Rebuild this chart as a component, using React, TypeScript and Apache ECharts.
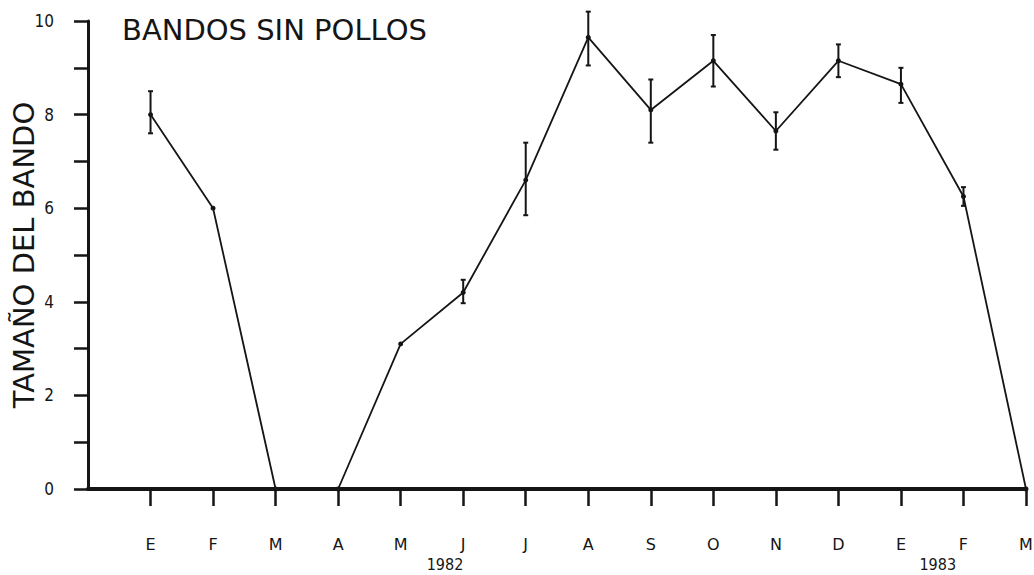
import React, { useEffect, useRef } from "react";
import * as echarts from "echarts";

const months = ["E", "F", "M", "A", "M", "J", "J", "A", "S", "O", "N", "D", "E", "F", "M"];
const sizes = [8.0, 6.0, 0, 0, 3.1, 4.2, 6.6, 9.65, 8.1, 9.15, 7.65, 9.15, 8.65, 6.25, 0];
const errLow = [7.6, null, null, null, null, 3.97, 5.85, 9.05, 7.4, 8.6, 7.25, 8.8, 8.25, 6.05, null];
const errHigh = [8.5, null, null, null, null, 4.47, 7.4, 10.2, 8.75, 9.7, 8.05, 9.5, 9.0, 6.45, null];
const yLabelValues = [0, 2, 4, 6, 8, 10];
const yearLabels = ["1982", "1983"];
const yearPositions = [5.72, 13.6];

const INK = "#151515";
const FONT = "'DejaVu Sans', 'Liberation Sans', sans-serif";
const FONT_C = "'DejaVu Sans Condensed', 'DejaVu Sans', sans-serif";

export default function App() {
  const ref = useRef<HTMLDivElement>(null);
  useEffect(() => {
    if (!ref.current) return;
    const chart = echarts.init(ref.current, null, { renderer: "svg" });
    const W = 1034;
    const gridLeft = 88;
    const gridRight = 8;
    const step = (W - gridLeft - gridRight) / months.length;
    const cats = ["", ...months];
    const lineData = sizes.map((v, i) => [i + 1, v]);
    const errData: any[] = [];
    errLow.forEach((lo, i) => {
      const hi = errHigh[i];
      if (lo != null && hi != null) errData.push([i + 1, lo, hi]);
    });
    chart.setOption({
      animation: false,
      backgroundColor: "#ffffff",
      title: {
        text: "BANDOS SIN POLLOS",
        left: 117,
        top: 10,
        textStyle: { fontFamily: FONT, fontSize: 29, fontWeight: "normal", color: INK },
      },
      grid: { left: gridLeft, right: gridRight, top: 21, bottom: 86, outerBoundsMode: "none" },
      xAxis: {
        type: "category",
        data: cats,
        boundaryGap: false,
        axisLine: { lineStyle: { color: INK, width: 4 } },
        axisTick: {
          length: 17,
          lineStyle: { color: INK, width: 2.5 },
          interval: (idx: number) => idx > 0,
        },
        axisLabel: {
          margin: 47,
          interval: 0,
          color: INK,
          fontFamily: FONT,
          fontSize: 16,
        },
        splitLine: { show: false },
      },
      yAxis: {
        type: "value",
        min: 0,
        max: 10,
        interval: 1,
        name: "TAMAÑO DEL BANDO",
        nameLocation: "middle",
        nameGap: 50,
        nameRotate: 90,
        nameMoveOverlap: false,
        nameTextStyle: { fontFamily: FONT, fontSize: 29, color: INK },
        axisLine: { show: true, lineStyle: { color: INK, width: 3 } },
        axisTick: { show: true, length: 14, lineStyle: { color: INK, width: 2.5 } },
        axisLabel: {
          margin: 34,
          color: INK,
          fontFamily: FONT_C,
          fontSize: 17,
          formatter: (v: number) => (yLabelValues.includes(v) ? String(v) : ""),
        },
        splitLine: { show: false },
      },
      graphic: yearLabels.map((t, i) => ({
        type: "text",
        left: gridLeft + yearPositions[i] * step - 19,
        top: 556,
        style: { text: t, fill: INK, font: `16px ${FONT_C}` },
      })),
      series: [
        {
          type: "line",
          data: lineData,
          symbol: "circle",
          symbolSize: 5,
          itemStyle: { color: INK },
          lineStyle: { color: INK, width: 1.8 },
          z: 3,
        },
        {
          type: "custom",
          data: errData,
          z: 4,
          renderItem: (params: any, api: any) => {
            const x = api.coord([api.value(0), 0])[0];
            const lo = api.coord([api.value(0), api.value(1)])[1];
            const hi = api.coord([api.value(0), api.value(2)])[1];
            const cap = 2.5;
            const style = { stroke: INK, lineWidth: 2 };
            return {
              type: "group",
              children: [
                { type: "line", shape: { x1: x, y1: hi, x2: x, y2: lo }, style },
                { type: "line", shape: { x1: x - cap, y1: hi, x2: x + cap, y2: hi }, style },
                { type: "line", shape: { x1: x - cap, y1: lo, x2: x + cap, y2: lo }, style },
              ],
            };
          },
        },
      ],
    });
    return () => chart.dispose();
  }, []);
  return <div ref={ref} style={{ width: 1034, height: 575, position: "absolute", left: 0, top: 0 }} />;
}
